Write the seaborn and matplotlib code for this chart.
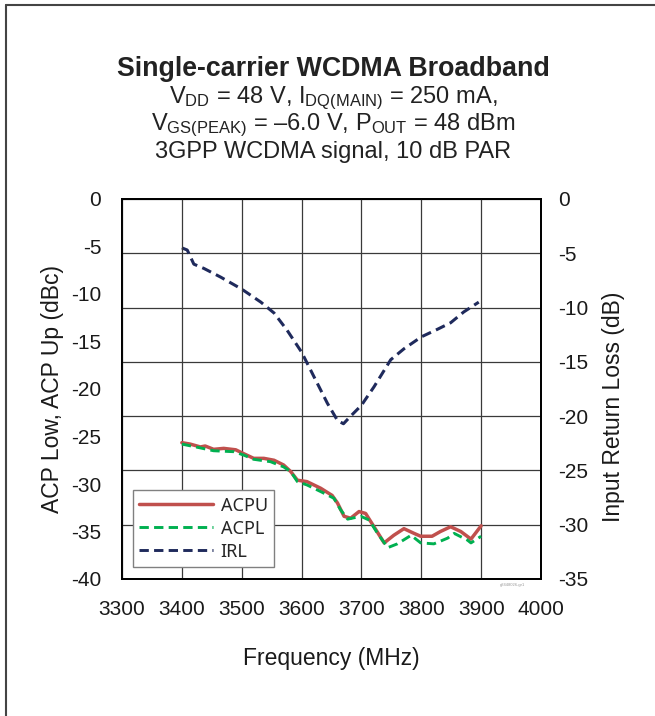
import matplotlib
matplotlib.use("Agg")
import matplotlib.pyplot as plt
import seaborn as sns
import pandas as pd
from matplotlib.lines import Line2D

# ---------------- data ----------------
acpu_freq = [3400, 3414, 3431, 3439, 3453, 3470, 3490, 3503, 3520, 3537, 3554, 3570,
             3582, 3593, 3609, 3632, 3651, 3660, 3671, 3682, 3696, 3707, 3721, 3738,
             3754, 3771, 3788, 3799, 3818, 3832, 3849, 3866, 3883, 3900]
acpu = [-25.65, -25.8, -26.1, -26.0, -26.35, -26.25, -26.4, -26.8, -27.3, -27.3, -27.5, -28.0,
        -28.7, -29.6, -29.75, -30.45, -31.2, -32.0, -33.4, -33.6, -32.9, -33.1, -34.5, -36.2,
        -35.4, -34.7, -35.2, -35.5, -35.5, -35.0, -34.5, -35.0, -35.8, -34.4]

acpl_freq = [3400, 3431, 3453, 3487, 3503, 3520, 3548, 3570, 3582, 3593, 3609, 3632,
             3654, 3665, 3677, 3699, 3713, 3727, 3744, 3760, 3783, 3799, 3821, 3844,
             3855, 3877, 3883, 3900]
acpl = [-25.8, -26.2, -26.5, -26.6, -26.95, -27.4, -27.65, -28.2, -28.7, -29.75, -30.1, -30.8,
        -31.5, -32.7, -33.7, -33.4, -33.8, -35.2, -36.7, -36.3, -35.4, -36.2, -36.3, -35.7,
        -35.2, -35.9, -36.2, -35.5]

irl_freq = [3400, 3409, 3420, 3437, 3465, 3500, 3532, 3554, 3576, 3600, 3621, 3643,
            3660, 3670, 3682, 3700, 3721, 3749, 3771, 3800, 3827, 3849, 3871, 3896]
irl = [-4.5, -4.7, -6.0, -6.4, -7.2, -8.3, -9.5, -10.5, -12.1, -14.1, -16.4, -18.8,
       -20.4, -20.7, -20.0, -19.0, -17.3, -14.8, -13.8, -12.7, -12.0, -11.4, -10.4, -9.5]

x_ticks = [3300, 3400, 3500, 3600, 3700, 3800, 3900, 4000]
left_ticks = [0, -5, -10, -15, -20, -25, -30, -35, -40]
right_ticks = [0, -5, -10, -15, -20, -25, -30, -35]

title = "Single-carrier WCDMA Broadband"
sub1 = r"V$_{\rm DD}$ = 48 V, I$_{\rm DQ(MAIN)}$ = 250 mA,"
sub2 = r"V$_{\rm GS(PEAK)}$ = –6.0 V, P$_{\rm OUT}$ = 48 dBm"
sub3 = "3GPP WCDMA signal, 10 dB PAR"

# ---------------- style ----------------
sns.set_style("white")
plt.rcParams["font.family"] = ["Liberation Sans", "DejaVu Sans"]
plt.rcParams["mathtext.fontset"] = "custom"
plt.rcParams["mathtext.rm"] = "Liberation Sans"
plt.rcParams["mathtext.it"] = "Liberation Sans:italic"
plt.rcParams["mathtext.bf"] = "Liberation Sans:bold"
plt.rcParams["axes.unicode_minus"] = False

W, H = 655, 716
fig = plt.figure(figsize=(W / 100, H / 100), dpi=100)
L, R, T, B = 122, 541, 199, 579
ax = fig.add_axes([L / W, 1 - B / H, (R - L) / W, (B - T) / H])
ax2 = ax.twinx()

red = "#C0504D"
green = "#00B050"
navy = "#1F2A5C"
gridc = "#3a3a3a"
txt = "#1a1a1a"

df_u = pd.DataFrame({"f": acpu_freq, "v": acpu})
df_l = pd.DataFrame({"f": acpl_freq, "v": acpl})
df_i = pd.DataFrame({"f": irl_freq, "v": irl})

dash = (0, (3.2, 1.8))
sns.lineplot(data=df_i, x="f", y="v", ax=ax2, color=navy, lw=2.2,
             linestyle=dash, sort=False, legend=False)
sns.lineplot(data=df_u, x="f", y="v", ax=ax, color=red, lw=2.5,
             sort=False, legend=False)
sns.lineplot(data=df_l, x="f", y="v", ax=ax, color=green, lw=2.1,
             linestyle=dash, sort=False, legend=False)

# layering: left axes (ACP) on top of right axes (IRL + horizontal grid)
ax.set_zorder(2)
ax.patch.set_visible(False)
ax2.set_zorder(1)
ax2.patch.set_visible(True)
ax2.patch.set_facecolor("white")

ax.set_xlim(3300, 4000)
ax.set_ylim(-40, 0)
ax2.set_ylim(-35, 0)
ax.set_xticks(x_ticks)
ax.set_yticks(left_ticks)
ax2.set_yticks(right_ticks)

ax.grid(False)
ax.xaxis.grid(True, color=gridc, lw=0.9)
ax.yaxis.grid(False)
ax2.xaxis.grid(False)
ax2.yaxis.grid(True, color=gridc, lw=0.9)
ax.set_axisbelow(True)

tick_fs = 15
ax.tick_params(axis="x", length=0, pad=15, labelsize=tick_fs, colors=txt)
ax.tick_params(axis="y", length=0, pad=15, labelsize=tick_fs, colors=txt)
ax2.tick_params(axis="y", length=0, pad=12, labelsize=tick_fs, colors=txt)

for a in (ax, ax2):
    for s in a.spines.values():
        s.set_color("black")
        s.set_linewidth(1.3)

lab_fs = 16.5
ax.set_xlabel("Frequency (MHz)", fontsize=lab_fs, color=txt)
ax.xaxis.set_label_coords(0.5, -(647 - B) / (B - T), transform=ax.transAxes)
ax.set_ylabel("ACP Low, ACP Up (dBc)", fontsize=lab_fs, color=txt)
ax.yaxis.set_label_coords(-(L - 64) / (R - L), 0.5)
ax2.set_ylabel("Input Return Loss (dB)", fontsize=lab_fs, color=txt)
ax2.yaxis.set_label_coords((602 - L) / (R - L), (B - 407) / (B - T))

# legend
handles = [Line2D([], [], color=red, lw=2.5),
           Line2D([], [], color=green, lw=2.1, linestyle=dash),
           Line2D([], [], color=navy, lw=2.1, linestyle=dash)]
leg = ax.legend(handles, ["ACPU", "ACPL", "IRL"], loc="lower left",
                bbox_to_anchor=((133 - L) / (R - L), (B - 567) / (B - T)),
                borderaxespad=0, fancybox=False, frameon=True,
                prop={"family": "Noto Sans", "size": 13},
                handlelength=4.1, handletextpad=0.4, labelspacing=0.28,
                borderpad=0.35)
leg.get_frame().set_edgecolor("#808080")
leg.get_frame().set_linewidth(1.0)
leg.get_frame().set_facecolor("white")
leg.get_frame().set_alpha(1)

# titles
cx = 0.5 * (L + R) / W + 1.5 / W
fig.text(cx, 1 - 69 / H, title, ha="center", va="center",
         fontsize=19.3, fontweight="bold", color="#222222")
fig.text(cx, 1 - 98 / H, sub1, ha="center", va="center",
         fontsize=17, color="#222222")
fig.text(cx, 1 - 125 / H, sub2, ha="center", va="center",
         fontsize=17, color="#222222")
fig.text(cx, 1 - 152 / H, sub3, ha="center", va="center",
         fontsize=17, color="#222222")

# tiny figure id
fig.text(512 / W, 1 - 585 / H, "g3448026-gr1", ha="center", va="center",
         fontsize=3, color="#999999")

# page border (left and top)
fig.add_artist(Line2D([6 / W, 6 / W], [0, 1 - 5 / H], transform=fig.transFigure,
                      color="#444444", lw=1.5))
fig.add_artist(Line2D([6 / W, 1], [1 - 5 / H, 1 - 5 / H], transform=fig.transFigure,
                      color="#444444", lw=1.5))

fig.savefig("out.png", dpi=100)
